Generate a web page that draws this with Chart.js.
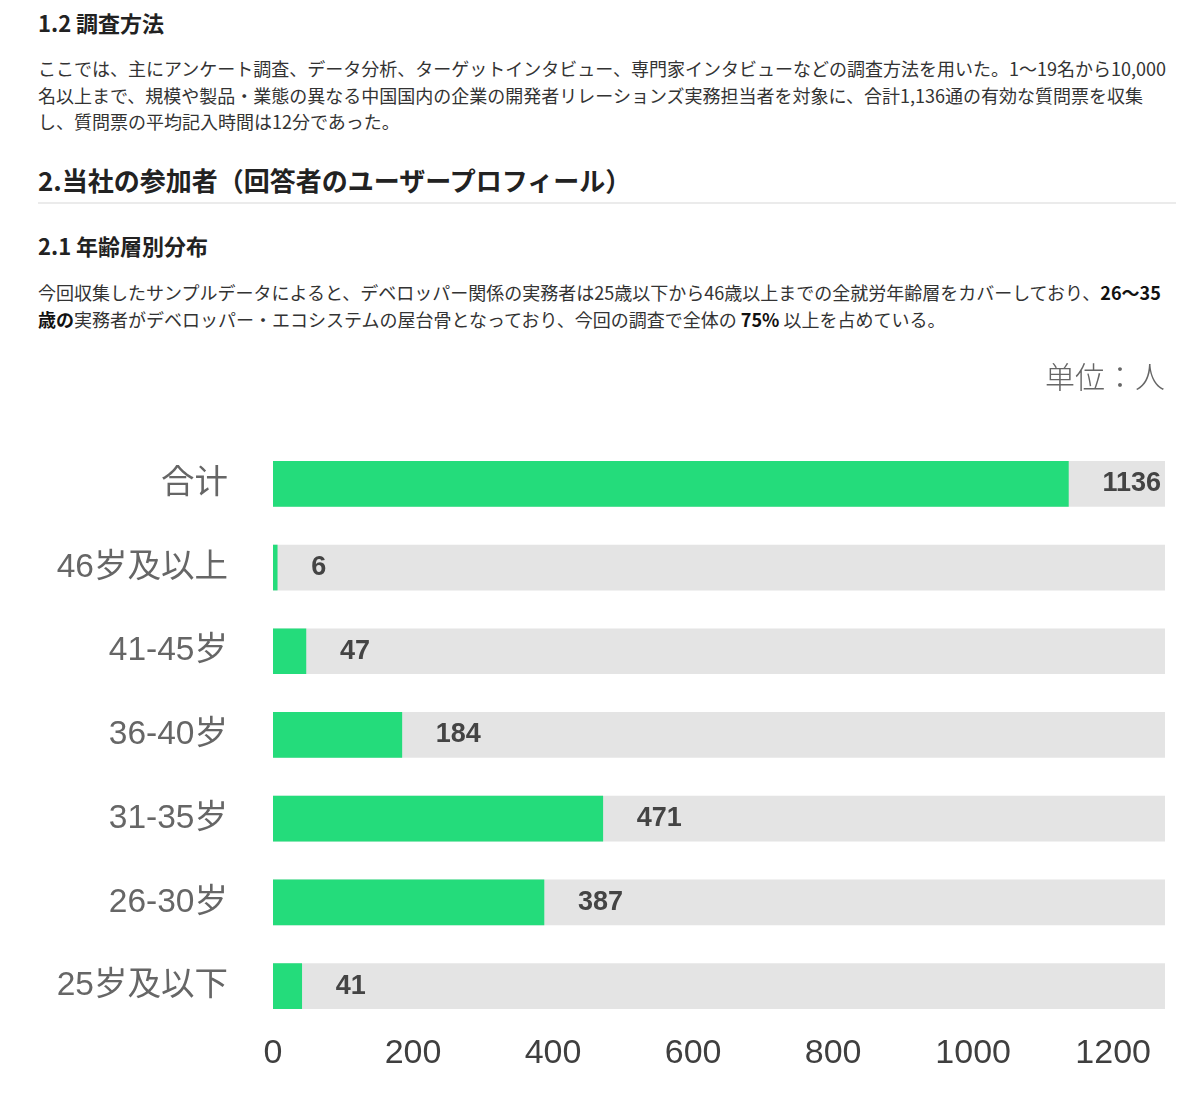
<!DOCTYPE html>
<html lang="ja">
<head>
<meta charset="utf-8">
<title>2.1 年齢層別分布</title>
<script src="https://cdn.jsdelivr.net/npm/chart.js@4"></script>
<style>
  body { margin: 0; background: #fff; font-family: "Noto Sans CJK JP", "Noto Sans", sans-serif; color: #333; }
  .page { position: relative; width: 1200px; height: 1093px; overflow: hidden; }
  .h { position: absolute; left: 38px; margin: 0; font-weight: bold; color: #222; white-space: nowrap; }
  .p { position: absolute; left: 38px; margin: 0; font-size: 18px; line-height: 26.5px; white-space: nowrap; color: #333; }
  .p b { color: #111; }
  .rule { position: absolute; left: 38px; top: 202px; width: 1138px; height: 2px; background: #ebebeb; }
  .chart-box { position: absolute; left: 0; top: 340px; width: 1200px; height: 753px; }
</style>
</head>
<body>
<div class="page">
  <h3 class="h" style="top:7px;font-size:22px;line-height:30px;">1.2 調査方法</h3>
  <p class="p" style="top:55px;">ここでは、主にアンケート調査、データ分析、ターゲットインタビュー、専門家インタビューなどの調査方法を用いた。1〜19名から10,000<br>名以上まで、規模や製品・業態の異なる中国国内の企業の開発者リレーションズ実務担当者を対象に、合計1,136通の有効な質問票を収集<br>し、質問票の平均記入時間は12分であった。</p>
  <h2 class="h" style="top:162px;font-size:26px;line-height:36px;">2.当社の参加者（回答者のユーザープロフィール）</h2>
  <div class="rule"></div>
  <h3 class="h" style="top:230px;font-size:22px;line-height:30px;">2.1 年齢層別分布</h3>
  <p class="p" style="top:279px;">今回収集したサンプルデータによると、デベロッパー関係の実務者は25歳以下から46歳以上までの全就労年齢層をカバーしており、<b>26〜35</b><br><b>歳の</b>実務者がデベロッパー・エコシステムの屋台骨となっており、今回の調査で全体の <b>75%</b> 以上を占めている。</p>
  <div class="chart-box"><canvas id="ageChart"></canvas></div>
</div>

<script>
// age groups, top to bottom as in the picture
const categories = ['合计', '46岁及以上', '41-45岁', '36-40岁', '31-35岁', '26-30岁', '25岁及以下'];
const counts = [1136, 6, 47, 184, 471, 387, 41];
const xTicks = [0, 200, 400, 600, 800, 1000, 1200];
const unitLabel = '单位：人';

const xMax = 1274;  // grey track runs a bit past the last tick
const trackValues = categories.map(() => xMax);

// value labels next to each green bar
const valueLabels = {
    id: 'valueLabels',
    afterDatasetsDraw(chart) {
        const ctx = chart.ctx;
        const area = chart.chartArea;
        const meta = chart.getDatasetMeta(0);
        ctx.save();
        ctx.font = 'bold 27px "Liberation Sans", Arial, sans-serif';
        ctx.fillStyle = '#444';
        ctx.textBaseline = 'middle';
        meta.data.forEach((bar, i) => {
            const text = String(counts[i]);
            let x = bar.x + 34;
            if (x + ctx.measureText(text).width > area.right - 3) {
                ctx.textAlign = 'right';
                x = area.right - 3;
            } else {
                ctx.textAlign = 'left';
            }
            ctx.fillText(text, x, bar.y);
        });
        ctx.restore();
    }
};

function setupChart() {
    const ctx = document.getElementById('ageChart').getContext('2d');
    new Chart(ctx, {
        type: 'bar',
        data: {
            labels: categories,
            datasets: [{
                label: '人数',
                data: counts,
                backgroundColor: '#24dc7b',
                borderWidth: 0,
                barThickness: 45,
                grouped: false,
                order: 0
            }, {
                label: 'track',
                data: trackValues,
                backgroundColor: '#e4e4e4',
                borderWidth: 0,
                barThickness: 45,
                grouped: false,
                order: 1
            }]
        },
        options: {
            indexAxis: 'y',
            responsive: true,
            maintainAspectRatio: false,
            animation: false,
            layout: { padding: { left: 0, right: 35, top: 0, bottom: 0 } },
            plugins: {
                legend: { display: false },
                tooltip: { enabled: false },
                title: {
                    display: true,
                    text: unitLabel,
                    align: 'end',
                    color: '#666',
                    font: { size: 30, weight: '300', family: '"Noto Sans CJK SC", sans-serif' },
                    padding: { top: 19, bottom: 47 }
                }
            },
            scales: {
                x: {
                    min: 0,
                    max: xMax,
                    border: { display: false },
                    grid: { display: false, drawTicks: false },
                    afterBuildTicks: (scale) => { scale.ticks = xTicks.map(v => ({ value: v })); },
                    afterFit: (scale) => { scale.height = 61; },
                    ticks: {
                        includeBounds: false,
                        padding: 5,
                        color: '#3f3f3f',
                        callback: (value) => String(value),
                        font: { size: 34, family: '"Liberation Sans", Arial, sans-serif' }
                    }
                },
                y: {
                    border: { display: false },
                    grid: { display: false, drawTicks: false },
                    afterFit: (scale) => { scale.width = 273; },
                    ticks: {
                        padding: 45,
                        color: '#666',
                        font: { size: 33.5, family: '"Liberation Sans", "Noto Sans CJK SC", sans-serif' }
                    }
                }
            }
        },
        plugins: [valueLabels]
    });
}

window.onload = function() {
    setupChart();
};
</script>
</body>
</html>
